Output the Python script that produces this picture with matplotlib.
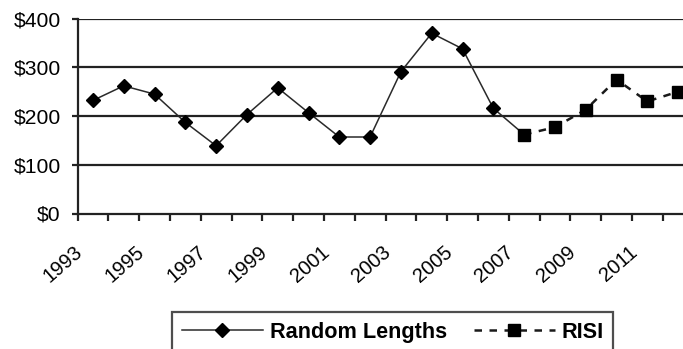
import numpy as np
import matplotlib
matplotlib.use("Agg")
import matplotlib.pyplot as plt
from matplotlib.lines import Line2D
from matplotlib.transforms import ScaledTranslation

plt.rcParams['font.family'] = ['Liberation Sans', 'DejaVu Sans']

years = list(range(1993, 2013))
random_lengths = [232, 262, 245, 187, 139, 203, 258, 207, 157, 157,
                  291, 370, 338, 216, 162] + [np.nan] * 5
risi = [np.nan] * 14 + [162, 177, 213, 275, 230, 250]
tick_years = [str(y) for y in range(1993, 2013, 2)]
y_ticks = [0, 100, 200, 300, 400]
y_labels = ['$0', '$100', '$200', '$300', '$400']

W, H = 683, 349
fig = plt.figure(figsize=(W / 100, H / 100), dpi=100)
x0, x1 = 77.5, 77.5 + 20 * 30.8
y0, y1 = 213.5, 18.6
ax = fig.add_axes([x0 / W, (H - y0) / H, (x1 - x0) / W, (y0 - y1) / H])

x = np.arange(len(years))
ax.plot(x, random_lengths, color='#2a2a2a', lw=1.1, marker='D', ms=6.8,
        mfc='black', mec='black', markevery=list(range(14)), zorder=3)
ax.plot(x, risi, color='#1a1a1a', lw=1.8, ls=(0, (3, 3)), marker='s', ms=9,
        mfc='black', mec='black', zorder=4)

ax.set_xlim(-0.5, len(years) - 0.5)
ax.set_ylim(0, 400)

for yv in y_ticks[1:]:
    ax.axhline(yv, color='#222222', lw=1.6, zorder=1)

for s in ['top', 'right']:
    ax.spines[s].set_visible(False)
ax.spines['left'].set_linewidth(1.6)
ax.spines['bottom'].set_linewidth(1.6)
ax.spines['left'].set_color('#222222')
ax.spines['bottom'].set_color('#222222')

ax.set_yticks(y_ticks)
ax.set_yticklabels(y_labels)
ax.tick_params(axis='y', length=4, width=1.6, pad=8, labelsize=15.2,
               color='#222222')

ax.set_xticks(np.arange(0, len(years), 2))
ax.set_xticklabels(tick_years)
ax.set_xticks(np.arange(-0.5, len(years), 1), minor=True)
ax.tick_params(axis='x', which='major', length=0, pad=21, labelsize=14.5)
ax.tick_params(axis='x', which='minor', length=5, width=1.6, color='#222222')
off = ScaledTranslation(-19 / 100, 0, fig.dpi_scale_trans)
for lab in ax.get_xticklabels():
    lab.set_rotation(41)
    lab.set_ha('right')
    lab.set_va('top')
    lab.set_rotation_mode('anchor')
    lab.set_transform(lab.get_transform() + off)

handles = [
    Line2D([], [], color='#2a2a2a', lw=1.1, marker='D', ms=6.8,
           mfc='black', mec='black'),
    Line2D([], [], color='#1a1a1a', lw=1.8, ls=(0, (3, 3)), marker='s', ms=9,
           mfc='black', mec='black'),
]
leg = fig.legend(handles, ['Random Lengths', 'RISI'], ncol=2,
                 loc='upper left', bbox_to_anchor=(172 / W, 1 - 312 / H),
                 frameon=True, fancybox=False, shadow=False,
                 prop={'weight': 'bold', 'size': 15.6},
                 handlelength=3.75, handletextpad=0.3, columnspacing=1.25,
                 borderpad=0.45, borderaxespad=0)
leg.get_frame().set_edgecolor('#222222')
leg.get_frame().set_linewidth(1.6)

fig.savefig('out.png', dpi=100)
